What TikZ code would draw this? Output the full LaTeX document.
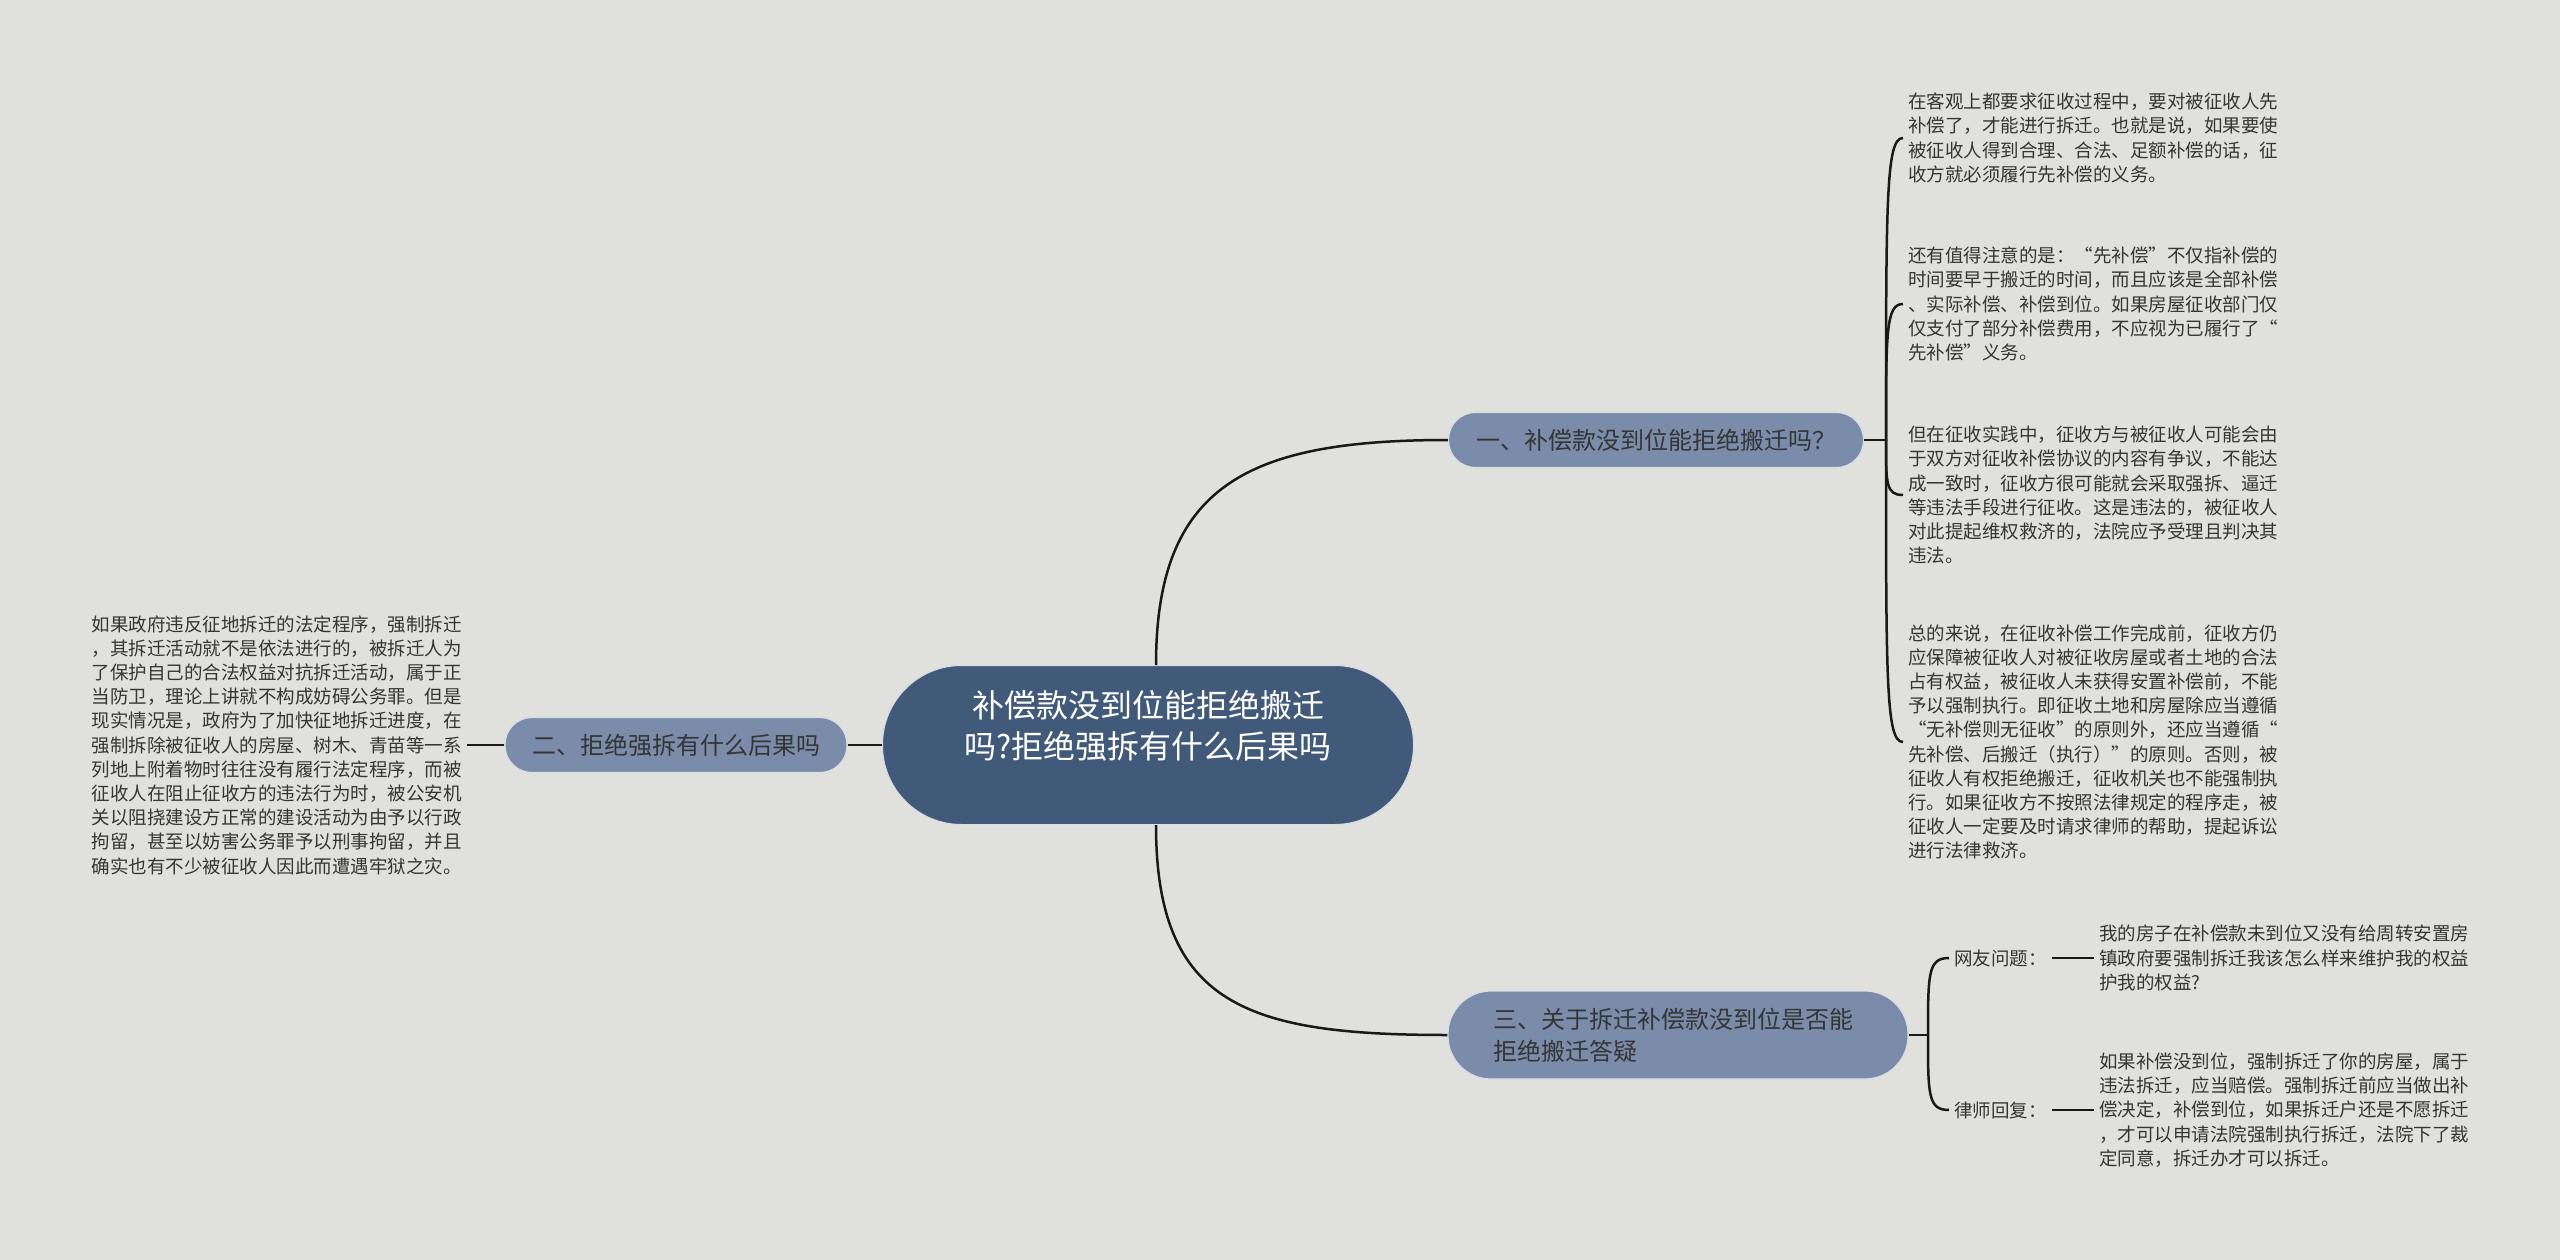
\documentclass[tikz,border=0pt]{standalone}
\usepackage{fontspec}
\newfontfamily\cjk{Noto Sans CJK SC}
\usetikzlibrary{positioning, calc}

\definecolor{bgcol}{HTML}{E0E1DC}
\definecolor{rootcol}{HTML}{425A7A}
\definecolor{subcol}{HTML}{7A8CAA}
\definecolor{txtcol}{HTML}{353535}
\definecolor{rimcol}{HTML}{D6DDE6}

\tikzset{
  rootbox/.style={draw=rimcol, line width=1pt, fill=rootcol, rounded corners=79pt,
    minimum width=531pt, minimum height=159pt, text=white, align=center,
    font=\cjk\fontsize{32}{41}\selectfont},
  subbox/.style={draw=rimcol, line width=1.2pt, fill=subcol, text=txtcol,
    font=\cjk\fontsize{24}{32}\selectfont},
  leaf/.style={text=txtcol, align=left, inner sep=5pt,
    font=\cjk\fontsize{18.5}{24.2}\selectfont},
  link/.style={line width=2.5pt, draw=black!90},
}

\begin{document}
\begin{tikzpicture}[x=1pt, y=-1pt]
  \useasboundingbox (0,0) rectangle (2560,1260);
  \fill[bgcol] (0,0) rectangle (2560,1260);

  % centre and main topics
  \node[rootbox] (root) at (1148,745) {补偿款没到位能拒绝搬迁\\吗?拒绝强拆有什么后果吗\\\mbox{}};
  \node[subbox, rounded corners=27pt, minimum width=415pt, minimum height=55pt] (b1) at (1656,440) {一、补偿款没到位能拒绝搬迁吗？};
  \node[subbox, rounded corners=27pt, minimum width=342pt, minimum height=55pt] (b2) at (676,745) {二、拒绝强拆有什么后果吗};
  \node[subbox, rounded corners=43pt, minimum height=88pt, text width=370pt, inner xsep=45pt, align=left] (b3) at (1678,1035) {三、关于拆迁补偿款没到位是否能\\拒绝搬迁答疑};

  \coordinate (j1) at (1886,440);
  \coordinate (j3) at (1928,1035);
  \coordinate (rtop) at ($(root.north)+(8,0)$);
  \coordinate (rbot) at ($(root.south)+(8,0)$);

  % topic one
  \node[leaf, anchor=west] (r1) at (1903,138) {在客观上都要求征收过程中，要对被征收人先\\补偿了，才能进行拆迁。也就是说，如果要使\\被征收人得到合理、合法、足额补偿的话，征\\收方就必须履行先补偿的义务。};
  \node[leaf, anchor=west] (r2) at (1903,304) {还有值得注意的是：“先补偿”不仅指补偿的\\时间要早于搬迁的时间，而且应该是全部补偿\\、实际补偿、补偿到位。如果房屋征收部门仅\\仅支付了部分补偿费用，不应视为已履行了“\\先补偿”义务。};
  \node[leaf, anchor=west] (r3) at (1903,495) {但在征收实践中，征收方与被征收人可能会由\\于双方对征收补偿协议的内容有争议，不能达\\成一致时，征收方很可能就会采取强拆、逼迁\\等违法手段进行征收。这是违法的，被征收人\\对此提起维权救济的，法院应予受理且判决其\\违法。};
  \node[leaf, anchor=west] (r4) at (1903,742) {总的来说，在征收补偿工作完成前，征收方仍\\应保障被征收人对被征收房屋或者土地的合法\\占有权益，被征收人未获得安置补偿前，不能\\予以强制执行。即征收土地和房屋除应当遵循\\“无补偿则无征收”的原则外，还应当遵循“\\先补偿、后搬迁（执行）”的原则。否则，被\\征收人有权拒绝搬迁，征收机关也不能强制执\\行。如果征收方不按照法律规定的程序走，被\\征收人一定要及时请求律师的帮助，提起诉讼\\进行法律救济。};

  % topic two
  \node[leaf, anchor=east] (l1) at (467,745) {如果政府违反征地拆迁的法定程序，强制拆迁\\，其拆迁活动就不是依法进行的，被拆迁人为\\了保护自己的合法权益对抗拆迁活动，属于正\\当防卫，理论上讲就不构成妨碍公务罪。但是\\现实情况是，政府为了加快征地拆迁进度，在\\强制拆除被征收人的房屋、树木、青苗等一系\\列地上附着物时往往没有履行法定程序，而被\\征收人在阻止征收方的违法行为时，被公安机\\关以阻挠建设方正常的建设活动为由予以行政\\拘留，甚至以妨害公务罪予以刑事拘留，并且\\确实也有不少被征收人因此而遭遇牢狱之灾。};

  % topic three
  \node[leaf, anchor=west] (q) at (1949,958) {网友问题：};
  \node[leaf, anchor=west] (a) at (1949,1110) {律师回复：};
  \node[leaf, anchor=west] (qt) at (2094,958) {我的房子在补偿款未到位又没有给周转安置房\\镇政府要强制拆迁我该怎么样来维护我的权益\\护我的权益?};
  \node[leaf, anchor=west] (at) at (2094,1110) {如果补偿没到位，强制拆迁了你的房屋，属于\\违法拆迁，应当赔偿。强制拆迁前应当做出补\\偿决定，补偿到位，如果拆迁户还是不愿拆迁\\，才可以申请法院强制执行拆迁，法院下了裁\\定同意，拆迁办才可以拆迁。};

  % connectors
  \draw[link] (rtop) .. controls +(0,-180) and +(-200,0) .. (b1.west);
  \draw[link] (rbot) .. controls +(0,180) and +(-200,0) .. (b3.west);
  \draw[link] (root.west) -- (b2.east);
  \draw[link] (b2.west) -- (l1.east);
  \draw[link] (b1.east) -- (j1);
  \foreach \l in {r1,r2,r3,r4}
    \draw[link] (j1) .. controls ($(j1)!0.8!(j1|-\l.west)$) and (j1|-\l.west) .. (\l.west);
  \draw[link] (b3.east) -- (j3);
  \foreach \l in {q,a}
    \draw[link] (j3) .. controls ($(j3)!0.8!(j3|-\l.west)$) and (j3|-\l.west) .. (\l.west);
  \draw[link] (q.east) -- (qt.west);
  \draw[link] (a.east) -- (at.west);
\end{tikzpicture}
\end{document}
